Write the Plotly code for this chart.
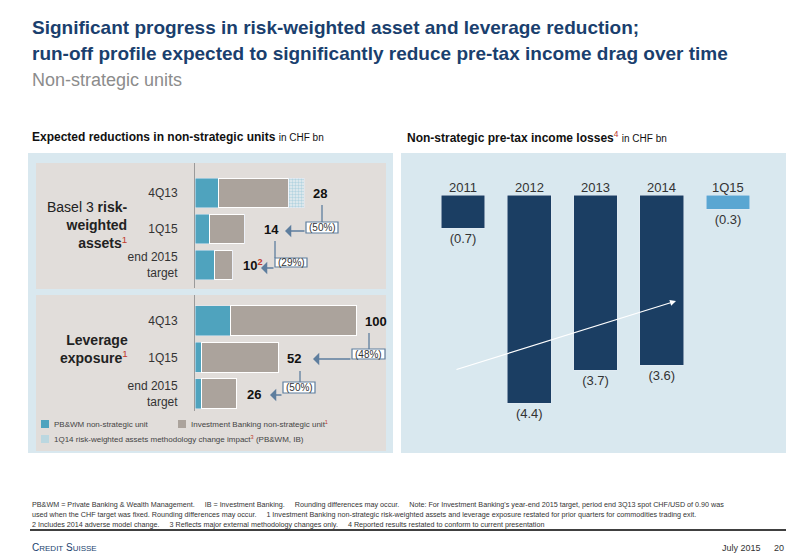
import plotly.graph_objects as go

W, H = 800, 554
def px(x): return x / W
def py(y): return 1 - y / H

# ---- data ----
rwa_cats = ["4Q13", "1Q15", "end 2015<br>target"]
rwa_pbwm = [6, 3.8, 5]
rwa_ib = [18, 9, 4.7]
rwa_meth = [4, 0, 0]
rwa_totals = ["28", "14", "10<sup><span style='color:#c0392b'>2</span></sup>"]

lev_cats = ["4Q13", "1Q15", "end 2015<br>target"]
lev_pbwm = [22, 4, 4]
lev_ib = [78, 48, 22]
lev_totals = ["100", "52", "26"]

years = ["2011", "2012", "2013", "2014", "1Q15"]
losses = [-0.7, -4.4, -3.7, -3.6, -0.3]
loss_labels = ["(0.7)", "(4.4)", "(3.7)", "(3.6)", "(0.3)"]

BLUE = "#4FA3BE"; GRAY = "#ABA39C"; NAVY = "#1B3E63"; LBLUE = "#5AA6D2"
BG = "#D9E8EF"; BOX = "#E1DDDA"; TXT = "#333333"
FONT = "Liberation Sans, Arial"

fig = go.Figure()
pos = [0, 1, 2]
# RWA
fig.add_bar(y=pos, x=rwa_pbwm, orientation="h", marker_color=BLUE, width=0.82, xaxis="x", yaxis="y", showlegend=False)
fig.add_bar(y=pos, x=rwa_ib, orientation="h", marker=dict(color=GRAY, line=dict(width=1, color="white")), width=0.82, xaxis="x", yaxis="y", showlegend=False)
fig.add_bar(y=pos, x=rwa_meth, orientation="h", width=0.82, xaxis="x", yaxis="y", showlegend=False,
            marker=dict(color="#FFFFFF", pattern=dict(shape=".", fgcolor="#7FB8CF", bgcolor="#E8EEF0", size=3, solidity=0.5)))
# Leverage
fig.add_bar(y=pos, x=lev_pbwm, orientation="h", marker_color=BLUE, width=0.82, xaxis="x2", yaxis="y2", showlegend=False)
fig.add_bar(y=pos, x=lev_ib, orientation="h", marker=dict(color=GRAY, line=dict(width=1, color="white")), width=0.82, xaxis="x2", yaxis="y2", showlegend=False)
# Losses
colors = [NAVY] * 4 + [LBLUE]
fig.add_bar(x=list(range(5)), y=losses, marker_color=colors, width=0.66, xaxis="x3", yaxis="y3",
            text=loss_labels, textposition="outside", textfont=dict(size=13, color=TXT), cliponaxis=False, showlegend=False)

tickfont = dict(size=12, color=TXT, family=FONT)
fig.update_layout(
    width=W, height=H, margin=dict(l=0, r=0, t=0, b=0), paper_bgcolor="white", plot_bgcolor="rgba(0,0,0,0)",
    barmode="stack", font=dict(family=FONT, color=TXT),
    xaxis=dict(domain=[px(187), px(378)], range=[0, 49], visible=False),
    yaxis=dict(domain=[py(280), py(155)], range=[2.64, -0.833], tickvals=pos, ticktext=rwa_cats, tickfont=tickfont,
               showline=True, linecolor="#9A9A9A", showgrid=False, zeroline=False, ticks="", ticklabelstandoff=14, anchor="x"),
    xaxis2=dict(domain=[px(187), px(378)], range=[0, 118.6], visible=False, anchor="y2"),
    yaxis2=dict(domain=[py(403), py(287)], range=[2.47, -0.71], tickvals=pos, ticktext=lev_cats, tickfont=tickfont,
                showline=True, linecolor="#9A9A9A", showgrid=False, zeroline=False, ticks="", ticklabelstandoff=14, anchor="x2"),
    xaxis3=dict(domain=[px(393), px(778)], range=[-0.936, 4.875], visible=False, anchor="y3"),
    yaxis3=dict(domain=[py(445), py(145)], range=[-5.45, 0.89], visible=False, anchor="x3"),
)

shapes = [
    dict(type="rect", xref="paper", yref="paper", x0=px(20), x1=px(385), y0=py(445), y1=py(145), fillcolor=BG, line_width=0, layer="below"),
    dict(type="rect", xref="paper", yref="paper", x0=px(28), x1=px(378), y0=py(281), y1=py(155), fillcolor=BOX, line_width=0, layer="below"),
    dict(type="rect", xref="paper", yref="paper", x0=px(28), x1=px(378), y0=py(443), y1=py(287), fillcolor=BOX, line_width=0, layer="below"),
    dict(type="rect", xref="paper", yref="paper", x0=px(393), x1=px(778), y0=py(445), y1=py(145), fillcolor=BG, line_width=0, layer="below"),
    dict(type="line", xref="paper", yref="paper", x0=px(22), x1=px(778), y0=py(522), y1=py(522), line=dict(color="black", width=1.5)),
    dict(type="rect", xref="paper", yref="paper", x0=px(33), x1=px(41), y0=py(420), y1=py(412), fillcolor=BLUE, line_width=0),
    dict(type="rect", xref="paper", yref="paper", x0=px(170), x1=px(178), y0=py(420), y1=py(412), fillcolor=GRAY, line_width=0),
    dict(type="rect", xref="paper", yref="paper", x0=px(33), x1=px(41), y0=py(435), y1=py(427), fillcolor="#BBD7E0", line_width=0),
]
AC = "#5E7E9E"
def conn(vx, vy0, vy1, bx0, bx1, by0, by1):
    return [dict(type="line", xref="paper", yref="paper", x0=px(vx), x1=px(vx), y0=py(vy0), y1=py(vy1), line=dict(color=AC, width=1.3)),
            dict(type="rect", xref="paper", yref="paper", x0=px(bx0), x1=px(bx1), y0=py(by1), y1=py(by0), fillcolor="white", line=dict(color=AC, width=1.2))]
shapes += conn(314, 197, 214, 298, 330, 214, 225)
shapes += conn(267, 233, 250, 267, 299, 250, 259)
shapes += conn(361, 325, 341, 344, 377, 341, 351)
shapes += conn(292, 363, 374, 275, 307, 374, 385)
fig.update_layout(shapes=shapes)

ann = []
def A(x, y, text, size=12, color=TXT, xa="left", ya="middle", **kw):
    ann.append(dict(xref="paper", yref="paper", x=px(x), y=py(y), text=text, showarrow=False,
                    font=dict(size=size, color=color, family=FONT), xanchor=xa, yanchor=ya, **kw))

A(22, 20, "<b>Significant progress in risk-weighted asset and leverage reduction;</b>", 19, "#1A3F6E")
A(22, 46, "<b>run-off profile expected to significantly reduce pre-tax income drag over time</b>", 19, "#1A3F6E")
A(22, 72, "Non-strategic units", 18, "#8C8C8C")
A(22, 129, "<b>Expected reductions in non-strategic units</b> <span style='font-size:10px'>in CHF bn</span>", 12, "#111")
A(397, 129, "<b>Non-strategic pre-tax income losses</b><sup><span style='color:#c0392b'>4</span></sup> <span style='font-size:10px'>in CHF bn</span>", 12, "#111")

A(122, 217, "Basel 3 <b>risk-</b><br><b>weighted</b><br><b>assets</b><sup><span style='color:#c0392b'>1</span></sup>", 14, "#222", xa="right", align="right")
A(122, 341, "<b>Leverage</b><br><b>exposure</b><sup><span style='color:#c0392b'>1</span></sup>", 14, "#222", xa="right", align="right")

for t, x, y in zip(rwa_totals, [303, 254, 233], [185, 221, 257]):
    A(x, y, f"<b>{t}</b>", 13, "#111")
for t, x, y in zip(lev_totals, [355, 277, 237], [313, 350, 386]):
    A(x, y, f"<b>{t}</b>", 13, "#111")

for txt, (bx0, bx1, by) in zip(["(50%)", "(29%)", "(48%)", "(50%)"],
                               [(298, 330, 219.5), (267, 299, 254.5), (344, 377, 346), (275, 307, 379.5)]):
    A((bx0 + bx1) / 2, by, txt, 10, TXT, xa="center")

def arrow(x0, y0, x1, y1, color, head, size, width):
    ann.append(dict(xref="paper", yref="paper", axref="pixel", ayref="pixel", x=px(x1), y=py(y1), ax=x0 - x1, ay=y0 - y1,
                    text="", showarrow=True, arrowhead=head, arrowsize=size, arrowwidth=width, arrowcolor=color))
for (x0, x1, y) in [(298, 277, 223), (267, 253, 260), (344, 305, 351), (275, 262, 387)]:
    arrow(x0, y, x1, y, AC, 1, 1.6, 1.3)
arrow(447, 362, 668, 293, "white", 2, 1, 1.2)

A(44, 416, "PB&WM non-strategic unit", 8, "#444")
A(181, 416, "Investment Banking non-strategic unit<sup><span style='color:#c0392b'>1</span></sup>", 8, "#444")
A(44, 431, "1Q14 risk-weighted assets methodology change impact<sup><span style='color:#c0392b'>3</span></sup> (PB&WM, IB)", 8, "#444")

for i, yv in enumerate(years):
    ann.append(dict(xref="x3", yref="paper", x=i, y=py(170), text=yv, showarrow=False, font=dict(size=13, color=TXT, family=FONT)))

sp = "&nbsp;" * 5
A(22, 496, f"PB&WM = Private Banking & Wealth Management.{sp}IB = Investment Banking.{sp}Rounding differences may occur.{sp}Note: For Investment Banking's year-end 2015 target, period end 3Q13 spot CHF/USD of 0.90 was", 7.2, "#333")
A(22, 506, f"used when the CHF target was fixed. Rounding differences may occur.{sp}1 Investment Banking non-strategic risk-weighted assets and leverage exposure restated for prior quarters for commodities trading exit.", 7.2, "#333")
A(22, 516, f"2 Includes 2014 adverse model change.{sp}3 Reflects major external methodology changes only.{sp}4 Reported results restated to conform to current presentation", 7.2, "#333")
A(22, 539, "C<span style='font-size:8px'>REDIT</span> S<span style='font-size:8px'>UISSE</span>", 10, "#1A3F6E")
A(712, 540, "July 2015", 9, "#333")
A(778, 540, "20", 9, "#333", xa="right")

fig.update_layout(annotations=ann)
fig.write_html("out.html")
